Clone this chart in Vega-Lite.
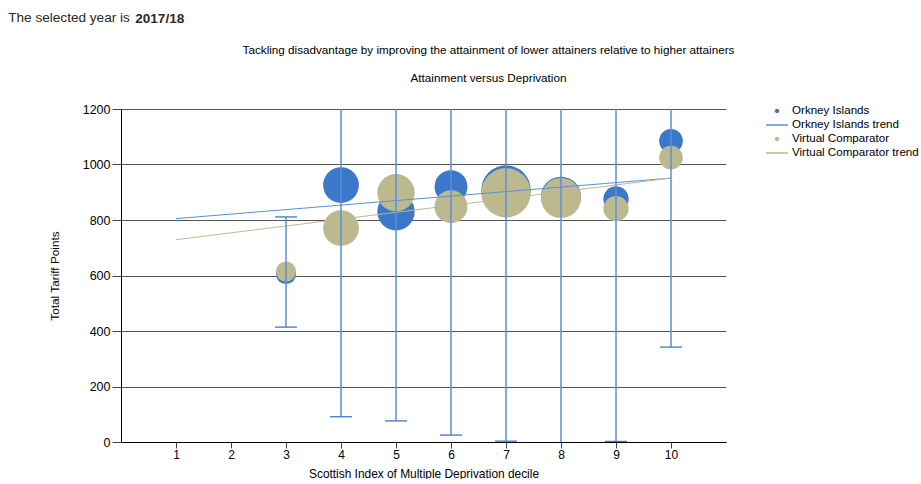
{
  "$schema": "https://vega.github.io/schema/vega-lite/v6.json",
  "background": "white",
  "padding": {"left": 8, "top": 11, "right": 0, "bottom": 0},
  "config": {
    "font": "Liberation Sans",
    "view": {"stroke": null},
    "concat": {"spacing": 0}
  },
  "datasets": {
    "points": [
      {"decile": 3, "series": "Orkney Islands", "tariff": 605, "cohort": 10},
      {"decile": 4, "series": "Orkney Islands", "tariff": 926, "cohort": 32},
      {"decile": 5, "series": "Orkney Islands", "tariff": 830, "cohort": 35},
      {"decile": 6, "series": "Orkney Islands", "tariff": 920, "cohort": 27},
      {"decile": 7, "series": "Orkney Islands", "tariff": 908, "cohort": 61},
      {"decile": 8, "series": "Orkney Islands", "tariff": 884, "cohort": 40},
      {"decile": 9, "series": "Orkney Islands", "tariff": 876, "cohort": 16},
      {"decile": 10, "series": "Orkney Islands", "tariff": 1085, "cohort": 14},
      {"decile": 3, "series": "Virtual Comparator", "tariff": 614, "cohort": 10},
      {"decile": 4, "series": "Virtual Comparator", "tariff": 771, "cohort": 32},
      {"decile": 5, "series": "Virtual Comparator", "tariff": 898, "cohort": 35},
      {"decile": 6, "series": "Virtual Comparator", "tariff": 848, "cohort": 27},
      {"decile": 7, "series": "Virtual Comparator", "tariff": 898, "cohort": 61},
      {"decile": 8, "series": "Virtual Comparator", "tariff": 879, "cohort": 40},
      {"decile": 9, "series": "Virtual Comparator", "tariff": 841, "cohort": 16},
      {"decile": 10, "series": "Virtual Comparator", "tariff": 1025, "cohort": 14}
    ],
    "trend": [
      {"decile": 1, "series": "Orkney Islands trend", "tariff": 805},
      {"decile": 10, "series": "Orkney Islands trend", "tariff": 951},
      {"decile": 1, "series": "Virtual Comparator trend", "tariff": 729},
      {"decile": 10, "series": "Virtual Comparator trend", "tariff": 951}
    ],
    "errors": [
      {"decile": 3, "lower": 414, "upper": 811},
      {"decile": 4, "lower": 91, "upper": 1761},
      {"decile": 5, "lower": 76, "upper": 1584},
      {"decile": 6, "lower": 25, "upper": 1815},
      {"decile": 7, "lower": 3, "upper": 1813},
      {"decile": 8, "lower": -50, "upper": 1818},
      {"decile": 9, "lower": 2, "upper": 1750},
      {"decile": 10, "lower": 342, "upper": 1828}
    ]
  },
  "title": {
    "text": "The selected year is",
    "anchor": "start",
    "frame": "bounds",
    "fontSize": 13.6,
    "fontWeight": "normal",
    "color": "#2b2b20",
    "dx": -41,
    "dy": 9,
    "offset": -4
  },
  "vconcat": [
    {
      "title": {
        "text": "2017/18",
        "anchor": "start",
        "frame": "bounds",
        "fontSize": 13.6,
        "fontWeight": "bold",
        "color": "#2b2b20",
        "dx": 86,
        "dy": -19,
        "offset": 0
      },
      "vconcat": [
        {
          "width": 605,
          "height": 333,
          "title": {
            "text": "Tackling disadvantage by improving the attainment of lower attainers relative to higher attainers",
            "subtitle": "Attainment versus Deprivation",
            "anchor": "middle",
            "dx": 65,
            "fontSize": 11.7,
            "fontWeight": "normal",
            "color": "#000000",
            "subtitleFontSize": 11.7,
            "subtitleColor": "#000000",
            "subtitlePadding": 17,
            "offset": 18
          },
          "layer": [
            {
              "data": {"name": "points"},
              "mark": {"type": "point", "filled": true, "opacity": 1, "shape": "circle"},
              "encoding": {
                "x": {
                  "field": "decile",
                  "type": "quantitative",
                  "scale": {"domain": [0, 11], "nice": false, "zero": false},
                  "axis": {
                    "values": [1, 2, 3, 4, 5, 6, 7, 8, 9, 10],
                    "format": "d",
                    "grid": false,
                    "domainColor": "#000000",
                    "tickColor": "#444444",
                    "tickSize": 6,
                    "labelFontSize": 12,
                    "labelColor": "#000000",
                    "labelPadding": 1,
                    "title": "Scottish Index of Multiple Deprivation decile",
                    "titleFontSize": 11.9,
                    "titleFontWeight": "normal",
                    "titleColor": "#000000",
                    "titlePadding": 8
                  }
                },
                "y": {
                  "field": "tariff",
                  "type": "quantitative",
                  "scale": {"domain": [0, 1200], "nice": false},
                  "axis": {
                    "values": [0, 200, 400, 600, 800, 1000, 1200],
                    "format": "d",
                    "grid": true,
                    "gridColor": "#555555",
                    "gridWidth": 1,
                    "domainColor": "#000000",
                    "tickColor": "#444444",
                    "tickSize": 9,
                    "labelFontSize": 12.5,
                    "labelColor": "#000000",
                    "labelPadding": 2,
                    "title": "Total Tariff Points",
                    "titleFontSize": 11.8,
                    "titleFontWeight": "normal",
                    "titleColor": "#000000",
                    "titlePadding": 22
                  }
                },
                "size": {
                  "field": "cohort",
                  "type": "quantitative",
                  "scale": {"type": "linear", "domain": [0, 100], "range": [0, 4000], "zero": true},
                  "legend": null
                },
                "color": {
                  "field": "series",
                  "type": "nominal",
                  "scale": {
                    "domain": ["Orkney Islands", "Orkney Islands trend", "Virtual Comparator", "Virtual Comparator trend"],
                    "range": ["#3b78c9", "#5b8fd6", "#bcb98e", "#bdb98c"]
                  },
                  "legend": {
                    "title": null,
                    "orient": "none",
                    "legendX": 650,
                    "legendY": -4,
                    "symbolSize": 100,
                    "symbolOpacity": 1,
                    "rowPadding": 2,
                    "labelFontSize": 11.6,
                    "labelColor": "#000000",
                    "labelOffset": 9,
                    "labelLimit": 300,
                    "encode": {
                      "symbols": {
                        "update": {
                          "shape": {"signal": "indexof(datum.value, 'trend') >= 0 ? 'M-2.2,0L2.2,0' : 'M-0.3,0a0.3,0.3 0 1,0 0.6,0a0.3,0.3 0 1,0 -0.6,0'"},
                          "fill": {"scale": "color", "field": "value"},
                          "stroke": {"scale": "color", "field": "value"},
                          "strokeWidth": {"value": 1.5},
                          "opacity": {"value": 1}
                        }
                      }
                    }
                  }
                }
              }
            },
            {
              "data": {"name": "trend"},
              "mark": {"type": "line", "strokeWidth": 1},
              "encoding": {
                "x": {"field": "decile", "type": "quantitative"},
                "y": {"field": "tariff", "type": "quantitative"},
                "color": {"field": "series", "type": "nominal"}
              }
            },
            {
              "data": {"name": "errors"},
              "mark": {"type": "rule", "color": "#5b8fd6", "strokeWidth": 1.5, "clip": true},
              "encoding": {
                "x": {"field": "decile", "type": "quantitative"},
                "y": {"field": "lower", "type": "quantitative"},
                "y2": {"field": "upper"}
              }
            },
            {
              "data": {"name": "errors"},
              "mark": {"type": "tick", "orient": "horizontal", "color": "#3b78c9", "size": 22, "thickness": 1.3, "opacity": 1, "clip": true},
              "encoding": {
                "x": {"field": "decile", "type": "quantitative"},
                "y": {"field": "lower", "type": "quantitative"}
              }
            },
            {
              "data": {"name": "errors"},
              "mark": {"type": "tick", "orient": "horizontal", "color": "#3b78c9", "size": 22, "thickness": 1.3, "opacity": 1, "clip": true},
              "encoding": {
                "x": {"field": "decile", "type": "quantitative"},
                "y": {"field": "upper", "type": "quantitative"}
              }
            }
          ]
        }
      ]
    }
  ]
}
